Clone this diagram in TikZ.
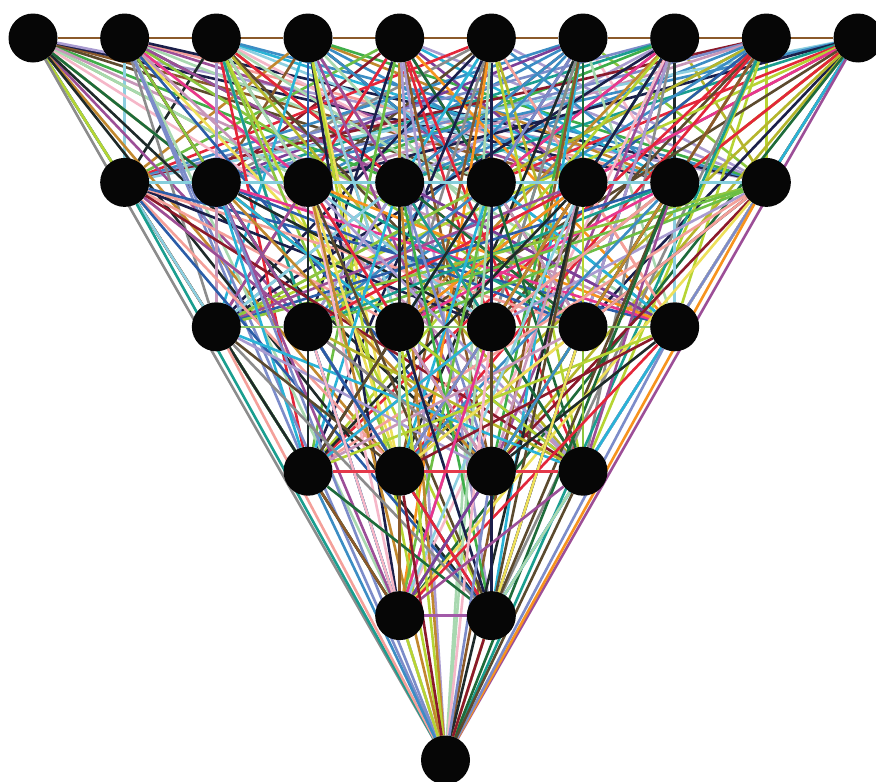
\documentclass[tikz,border=0pt]{standalone}
\usepackage{xcolor}
\usepackage{tikz}
\usetikzlibrary{backgrounds}

% edge palette
\definecolor{pal1}{HTML}{8B5A2B}
\definecolor{pal2}{HTML}{6DBE45}
\definecolor{pal3}{HTML}{2B5DA8}
\definecolor{pal4}{HTML}{E8368F}
\definecolor{pal5}{HTML}{7B3F98}
\definecolor{pal6}{HTML}{E3263A}
\definecolor{pal7}{HTML}{EDE05A}
\definecolor{pal8}{HTML}{1A9E8F}
\definecolor{pal9}{HTML}{2AB3D6}
\definecolor{pal10}{HTML}{8DCFE0}
\definecolor{pal11}{HTML}{F7931E}
\definecolor{pal12}{HTML}{1E6B3A}
\definecolor{pal13}{HTML}{8C8C8C}
\definecolor{pal14}{HTML}{A99BD0}
\definecolor{pal15}{HTML}{F4A09A}
\definecolor{pal16}{HTML}{B5B52B}
\definecolor{pal17}{HTML}{1B1F4A}
\definecolor{pal18}{HTML}{C797B9}
\definecolor{pal19}{HTML}{8B1A2B}
\definecolor{pal20}{HTML}{B6D433}
\definecolor{pal21}{HTML}{1F2A2A}
\definecolor{pal22}{HTML}{F5B7C8}
\definecolor{pal23}{HTML}{C1882E}
\definecolor{pal24}{HTML}{A8D8B0}
\definecolor{pal25}{HTML}{7C8CC9}
\definecolor{pal26}{HTML}{9C4E97}
\definecolor{pal27}{HTML}{3C8DC4}
\definecolor{pal28}{HTML}{5C4A2E}
\definecolor{pal29}{HTML}{3FAE49}
\definecolor{pal30}{HTML}{8CC63F}
% row colours
\definecolor{row1}{HTML}{8B5A2B}
\definecolor{row2}{HTML}{86CFDD}
\definecolor{row3}{HTML}{8CC56E}
\definecolor{row4}{HTML}{E5394A}
\definecolor{row5}{HTML}{A25AA8}
\definecolor{vtx}{HTML}{060606}

\tikzstyle{vertex} = [circle, minimum size=49pt, inner sep=0pt, fill=vtx, draw=none]
\tikzstyle{link} = [line width=2.6pt]

\begin{document}
\begin{tikzpicture}[x=1pt, y=-1pt]
\pgfmathsetseed{2718}
\useasboundingbox (0,0) rectangle (876,782);

% --------- vertices: rows of 10, 8, 6, 4, 2 ----------
\foreach \r/\k in {1/10,2/8,3/6,4/4,5/2}
  \foreach \i in {1,...,\k}
    \node (n\r-\i) [vertex] at ({33+(\r+\i-2)*91.67}, {38+(\r-1)*144.4}) {};
\node (n6-1) [vertex] at (445.5, 760) {};

\begin{scope}[on background layer]
% links between different rows
\foreach \ra/\ka in {1/10,2/8,3/6,4/4,5/2,6/1}
  \foreach \rb/\kb in {1/10,2/8,3/6,4/4,5/2,6/1} {
    \ifnum\rb>\ra
      \foreach \i in {1,...,\ka}
        \foreach \j in {1,...,\kb} {
          \pgfmathrandominteger{\c}{1}{30}
          \draw [link, draw=pal\c] (n\ra-\i) -- (n\rb-\j);
        }
    \fi
  }

% links along each row
\foreach \r/\k in {1/10,2/8,3/6,4/4,5/2}
  \foreach \i [remember=\i as \prev (initially 1)] in {2,...,\k}
    \draw [link, draw=row\r] (n\r-\prev) -- (n\r-\i);
\end{scope}

\end{tikzpicture}
\end{document}
